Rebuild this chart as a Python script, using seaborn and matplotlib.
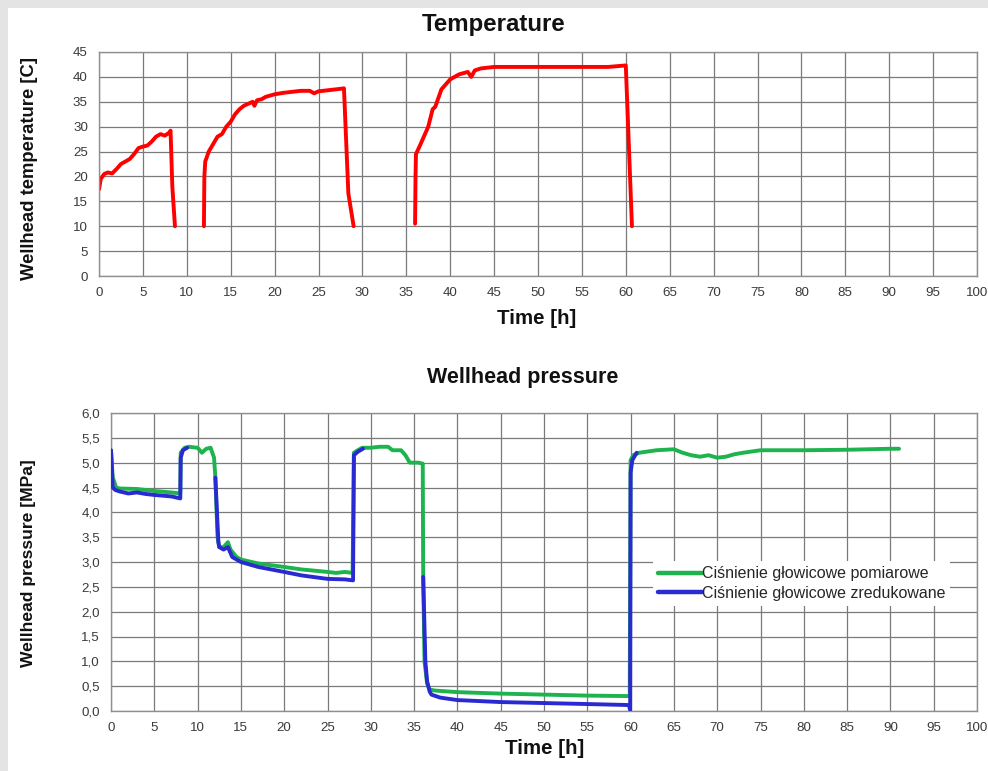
import numpy as np
import pandas as pd
import matplotlib
matplotlib.use("Agg")
import matplotlib.pyplot as plt
import seaborn as sns
from matplotlib.patches import Rectangle
from matplotlib.lines import Line2D

# ---------------- data ----------------
# Temperature, three separate runs
temp_t1 = [0, 0.2, 0.6, 1, 1.5, 2, 2.5, 3, 3.5, 4, 4.5, 5, 5.5, 6, 6.5, 7, 7.5, 8, 8.15, 8.35, 8.65]
temp_v1 = [17.4, 19.5, 20.5, 20.8, 20.6, 21.5, 22.5, 23, 23.5, 24.5, 25.7, 26, 26.2, 27, 28, 28.5, 28.2, 28.8, 29.2, 18, 10]

temp_t2 = [11.95, 12.0, 12.1, 12.5, 13, 13.5, 14, 14.5, 15, 15.5, 16, 16.5, 17, 17.5, 17.7, 18, 18.5,
           19, 20, 21, 22, 23, 24, 24.5, 25, 26, 27, 27.9, 28.4, 29.0]
temp_v2 = [10, 20, 23, 25, 26.5, 28, 28.5, 30, 31, 32.5, 33.5, 34.2, 34.6, 35, 34.2, 35.3, 35.5,
           36, 36.5, 36.8, 37, 37.2, 37.2, 36.7, 37.1, 37.3, 37.5, 37.7, 16.6, 10]

temp_t3 = [36.0, 36.05, 36.1, 36.5, 37, 37.5, 38, 38.3, 38.7, 39, 40, 41, 42, 42.4, 42.8, 43.5,
           45, 50, 55, 58, 60.0, 60.7]
temp_v3 = [10.5, 20, 24.5, 26, 28, 30, 33.5, 34, 36, 37.5, 39.5, 40.5, 41, 40, 41.3, 41.7,
           42, 42, 42, 42, 42.3, 10]

# Wellhead pressure - measured (green)
pm_t = [0, 0.2, 0.4, 0.6, 1, 3, 5, 7, 8, 8.05, 8.5, 9, 10, 10.5, 11, 11.5, 11.9, 12.05, 12.3, 12.5,
        13, 13.5, 13.8, 14.5, 15, 17, 20, 22, 25, 26, 27, 27.9, 28.05, 28.5, 29, 30, 31, 32, 32.5,
        33, 33.5, 34, 34.5, 35, 35.5, 36, 36.05, 36.2, 36.5, 36.8, 37.5, 40, 45, 50, 55, 59.9,
        60.0, 60.3, 61, 63, 65, 66, 67, 68, 69, 70, 71, 72, 73, 75, 80, 85, 90, 91]
pm_v = [5.25, 4.7, 4.6, 4.5, 4.48, 4.47, 4.43, 4.4, 4.38, 5.2, 5.3, 5.32, 5.3, 5.2, 5.28, 5.3, 5.1, 4.7,
        3.5, 3.3, 3.3, 3.4, 3.25, 3.1, 3.05, 2.97, 2.9, 2.85, 2.8, 2.78, 2.8, 2.78, 5.2, 5.25, 5.3,
        5.3, 5.32, 5.32, 5.25, 5.25, 5.25, 5.15, 5.0, 5.0, 5.0, 4.98, 2.7, 1.0, 0.55, 0.43, 0.41,
        0.38, 0.35, 0.33, 0.31, 0.3, 5.05, 5.15, 5.2, 5.25, 5.27, 5.2, 5.15, 5.12, 5.15, 5.1, 5.12,
        5.17, 5.2, 5.25, 5.25, 5.26, 5.28, 5.28]

# Wellhead pressure - reduced (blue), visible segments
pr_t1 = [0, 0.1, 0.2, 0.5, 1, 2, 3, 4, 5, 7, 8, 8.05, 8.3, 8.8]
pr_v1 = [5.25, 4.9, 4.5, 4.45, 4.42, 4.38, 4.4, 4.37, 4.35, 4.32, 4.28, 5.1, 5.25, 5.3]
pr_t2 = [12.05, 12.4, 12.5, 13, 13.5, 14, 15, 17, 20, 22, 25, 27, 27.95, 28.05, 28.5, 29.1]
pr_v2 = [4.7, 3.4, 3.3, 3.25, 3.3, 3.1, 3.0, 2.9, 2.8, 2.73, 2.66, 2.65, 2.63, 5.15, 5.22, 5.28]
pr_t3 = [36.05, 36.3, 36.5, 36.8, 37, 38, 40, 45, 50, 55, 59.8, 59.95, 60.0, 60.2, 60.7]
pr_v3 = [2.7, 1.0, 0.6, 0.39, 0.33, 0.27, 0.22, 0.18, 0.16, 0.14, 0.12, 0.02, 4.8, 5.05, 5.2]

x_ticks = list(range(0, 101, 5))
temp_yticks = list(range(0, 46, 5))
pres_yticks = [0.0, 0.5, 1.0, 1.5, 2.0, 2.5, 3.0, 3.5, 4.0, 4.5, 5.0, 5.5, 6.0]
pres_ylabels = ["0,0", "0,5", "1,0", "1,5", "2,0", "2,5", "3,0", "3,5", "4,0", "4,5", "5,0", "5,5", "6,0"]
series_names = ["Ciśnienie głowicowe pomiarowe", "Ciśnienie głowicowe zredukowane"]

# ---------------- frames ----------------
temp_df = pd.concat([
    pd.DataFrame({"t": temp_t1, "v": temp_v1, "seg": 1}),
    pd.DataFrame({"t": temp_t2, "v": temp_v2, "seg": 2}),
    pd.DataFrame({"t": temp_t3, "v": temp_v3, "seg": 3}),
], ignore_index=True)
pm_df = pd.DataFrame({"t": pm_t, "v": pm_v, "seg": 1})
pr_df = pd.concat([
    pd.DataFrame({"t": pr_t1, "v": pr_v1, "seg": 1}),
    pd.DataFrame({"t": pr_t2, "v": pr_v2, "seg": 2}),
    pd.DataFrame({"t": pr_t3, "v": pr_v3, "seg": 3}),
], ignore_index=True)

# ---------------- style ----------------
sns.set_theme(style="white")
plt.rcParams["font.family"] = ["Liberation Sans", "DejaVu Sans"]

W, H = 988, 771
fig = plt.figure(figsize=(W / 100, H / 100), dpi=100)
fig.patch.set_facecolor("#e4e4e4")
fig.patches.append(Rectangle((8 / W, 0), 1, 1 - 8 / H, transform=fig.transFigure,
                             facecolor="white", edgecolor="none", zorder=-10))

def px_axes(l, t, r, b):
    ax = fig.add_axes([l / W, 1 - b / H, (r - l) / W, (b - t) / H])
    ax.set_zorder(1)
    return ax

ax1 = px_axes(99, 52, 977, 276)
ax2 = px_axes(111, 413, 977, 711)

GRID = "#7a7a7a"
TICK = "#3a3a3a"

def style_axes(ax):
    ax.set_facecolor("white")
    ax.grid(True, color=GRID, linewidth=0.9)
    ax.set_axisbelow(True)
    for s in ax.spines.values():
        s.set_color("#8f8f8f")
        s.set_linewidth(1.0)
    ax.tick_params(length=0, labelsize=9.6, labelcolor=TICK, pad=8)

# Temperature
sns.lineplot(data=temp_df, x="t", y="v", units="seg", estimator=None, sort=False,
             color="#ff0000", linewidth=2.8, ax=ax1)
ax1.set_xlim(0, 100)
ax1.set_ylim(0, 45)
ax1.set_xticks(x_ticks)
ax1.set_yticks(temp_yticks)
style_axes(ax1)
ax1.set_xlabel("")
ax1.set_ylabel("")

# Pressure
sns.lineplot(data=pm_df, x="t", y="v", units="seg", estimator=None, sort=False,
             color="#1db34d", linewidth=2.8, ax=ax2, zorder=3)
sns.lineplot(data=pr_df, x="t", y="v", units="seg", estimator=None, sort=False,
             color="#2a2ad2", linewidth=2.8, ax=ax2, zorder=4)
ax2.set_xlim(0, 100)
ax2.set_ylim(0, 6)
ax2.set_xticks(x_ticks)
ax2.set_yticks(pres_yticks)
ax2.set_yticklabels(pres_ylabels)
style_axes(ax2)
ax2.set_xlabel("")
ax2.set_ylabel("")

handles = [Line2D([], [], color="#1db34d", linewidth=3.2),
           Line2D([], [], color="#2a2ad2", linewidth=3.2)]
leg = ax2.legend(handles, series_names, loc="upper left", bbox_to_anchor=(0.626, 0.502),
                 frameon=True, fontsize=11.5, handlelength=2.75, handletextpad=0.0,
                 labelspacing=0.3, borderpad=0.3, borderaxespad=0)
leg.get_frame().set_facecolor("white")
leg.get_frame().set_edgecolor("none")
leg.get_frame().set_alpha(1)
leg.get_frame().set_boxstyle("square", pad=0)
leg.set_zorder(10)

# Titles and labels as figure text
def ftext(x, y, s, **kw):
    fig.text(x / W, 1 - y / H, s, ha="center", va="center", **kw)

ftext(494, 24, "Temperature", fontsize=17.3, fontweight="bold", color="#111111")
ftext(523, 377, "Wellhead pressure", fontsize=15.5, fontweight="bold", color="#111111")
ftext(537, 319, "Time [h]", fontsize=14.8, fontweight="bold", color="#111111")
ftext(545, 749, "Time [h]", fontsize=14.8, fontweight="bold", color="#111111")
ftext(30, 168, "Wellhead temperature [C]", fontsize=13.3, fontweight="bold", color="#111111", rotation=90)
ftext(28, 563, "Wellhead pressure [MPa]", fontsize=12.6, fontweight="bold", color="#111111", rotation=90)

fig.savefig("out.png", dpi=100, facecolor=fig.get_facecolor())
